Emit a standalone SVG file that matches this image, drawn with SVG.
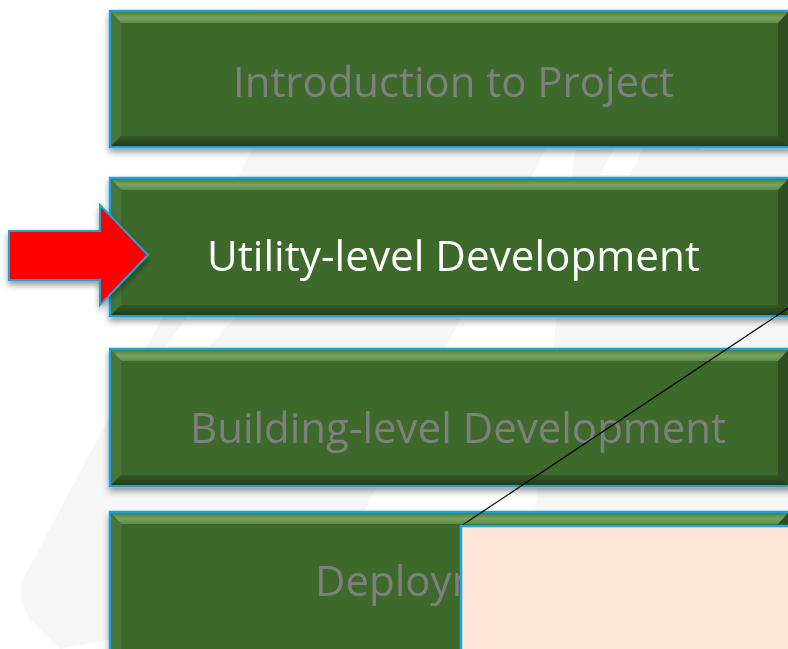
<svg xmlns="http://www.w3.org/2000/svg" width="788" height="649" viewBox="0 0 788 649">
  <defs>
    <filter id="shadow" x="-5%" y="-10%" width="110%" height="130%">
      <feDropShadow dx="0" dy="4" stdDeviation="3" flood-color="#000" flood-opacity="0.4"/>
    </filter>
    <linearGradient id="topBevel" x1="0" y1="0" x2="0" y2="1">
      <stop offset="0" stop-color="#4f7d3c"/>
      <stop offset="0.5" stop-color="#76a35f"/>
      <stop offset="1" stop-color="#5e8d49"/>
    </linearGradient>
    <linearGradient id="botBevel" x1="0" y1="0" x2="0" y2="1">
      <stop offset="0" stop-color="#35592a"/>
      <stop offset="1" stop-color="#243d1a"/>
    </linearGradient>
    <style>
      .box { fill: #3d6a2c; stroke: #1ea2d8; stroke-width: 2.5; }
      .bt { fill: url(#topBevel); }
      .bl { fill: #46753a; }
      .bb { fill: url(#botBevel); }
      .br { fill: #2e5023; }
      .lbl { font-family: "Open Sans", "Noto Sans", sans-serif; font-size: 42px; }
      .dim { fill: #7f7f7f; }
      .on { fill: #ffffff; }
      .wm { fill: #f6f6f6; }
      .wmw { fill: #ffffff; }
    </style>
  </defs>

  <rect x="0" y="0" width="788" height="649" fill="#ffffff"/>

  <!-- faint watermark -->
  <g id="watermark">
    <path class="wm" d="M300,60 L590,60 L320,600 L60,649 L30,620 Q15,595 25,575 Z"/>
    <polygon class="wmw" points="166,346 210,346 250,300 200,300"/>
    <polygon class="wmw" points="540,175 575,175 560,150"/>
    <polygon class="wm" points="575,150 600,150 640,60 740,60 700,150 790,150 790,649 700,649 760,520 640,520 600,649 520,649"/>
    <polygon class="wmw" points="600,175 630,175 665,100 640,100"/>
  </g>

  <g id="node-intro" filter="url(#shadow)">
    <rect class="box" x="110" y="11" width="690" height="136"/>
    <polygon class="bt" points="111,12 799,12 789,23 121,23"/>
    <polygon class="bl" points="111,12 121,23 121,136 111,146"/>
    <polygon class="bb" points="111,146 121,136 779,136 789,146"/>
    <polygon class="br" points="788,12 778,23 778,136 788,146"/>
    <text class="lbl dim" x="233" y="97" textLength="441" lengthAdjust="spacingAndGlyphs">Introduction to Project</text>
  </g>

  <g id="node-utility" filter="url(#shadow)">
    <rect class="box" x="110" y="178" width="690" height="138"/>
    <polygon class="bt" points="111,179 799,179 789,190 121,190"/>
    <polygon class="bl" points="111,179 121,190 121,305 111,315"/>
    <polygon class="bb" points="111,315 121,305 779,305 789,315"/>
    <polygon class="br" points="788,179 778,190 778,305 788,315"/>
    <text class="lbl on" x="207" y="271" textLength="493" lengthAdjust="spacingAndGlyphs">Utility-level Development</text>
  </g>

  <g id="node-building" filter="url(#shadow)">
    <rect class="box" x="110" y="349" width="690" height="137"/>
    <polygon class="bt" points="111,350 799,350 789,361 121,361"/>
    <polygon class="bl" points="111,350 121,361 121,475 111,485"/>
    <polygon class="bb" points="111,485 121,475 779,475 789,485"/>
    <polygon class="br" points="788,350 778,361 778,475 788,485"/>
    <text class="lbl dim" x="190" y="443" textLength="536" lengthAdjust="spacingAndGlyphs">Building-level Development</text>
  </g>

  <g id="node-deployment" filter="url(#shadow)">
    <rect class="box" x="110" y="512" width="690" height="160"/>
    <polygon class="bt" points="111,513 799,513 789,524 121,524"/>
    <polygon class="bl" points="111,513 121,524 121,660 111,670"/>
    <polygon class="br" points="788,513 778,524 778,660 788,670"/>
    <text class="lbl dim" x="315" y="596">Deployment</text>
  </g>

  <g id="connectors">
    <line x1="461" y1="526" x2="790" y2="307" stroke="#000000" stroke-width="1.2"/>
  </g>

  <g id="node-zoom-box">
    <rect x="461" y="526" width="340" height="140" fill="#fde4d5" stroke="#1ea8e0" stroke-width="2.5"/>
  </g>

  <g id="node-arrow" filter="url(#shadow)">
    <polygon points="9,231 100,231 100,205 148,255 100,305 100,280 9,280" fill="#ff0000" stroke="#1ea2d8" stroke-width="2" stroke-linejoin="miter"/>
  </g>
</svg>
